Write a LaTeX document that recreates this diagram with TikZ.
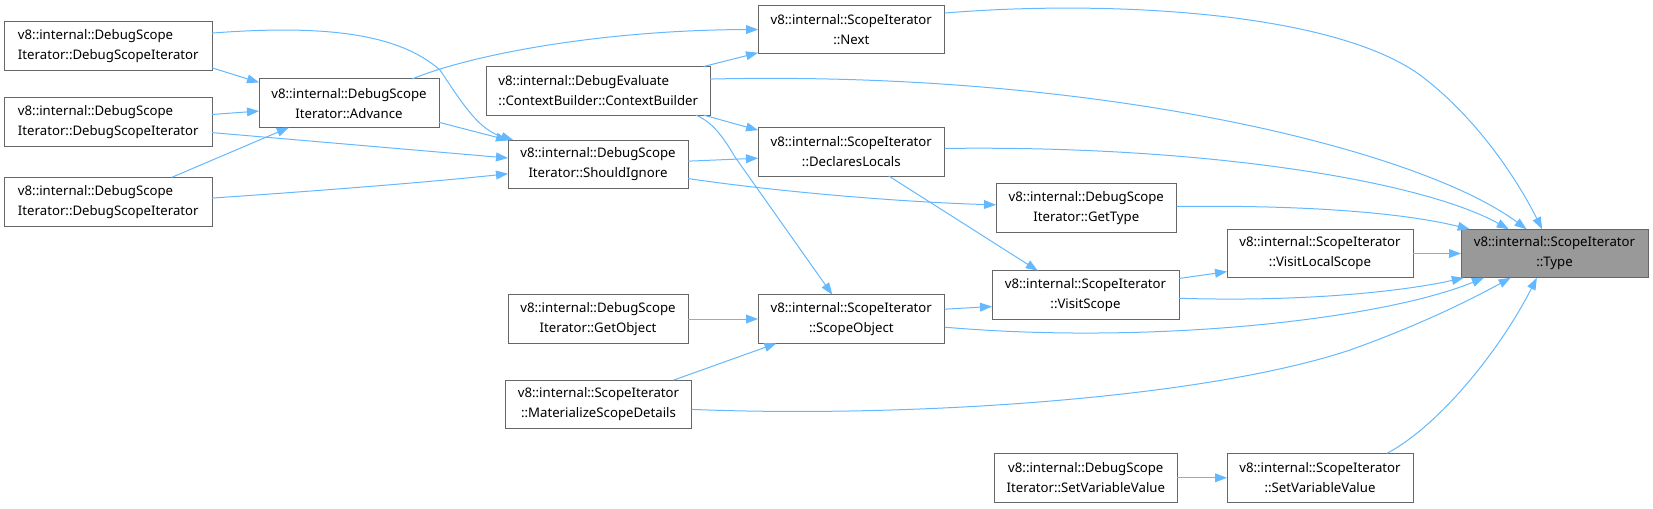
\documentclass[tikz,border=0pt]{standalone}
\usepackage{fontspec}
\setmainfont{Noto Sans}
\usetikzlibrary{arrows.meta}
\definecolor{edgeblue}{HTML}{63B8FF}
\definecolor{frame}{HTML}{666666}
\definecolor{rootfill}{HTML}{999999}

\begin{document}
\begin{tikzpicture}[x=0.75pt,y=-0.75pt,
  every node/.style={outer sep=0pt,text=black},
  fn/.style={draw=frame,line width=0.75pt,fill=white,
    font=\fontsize{9.9}{15}\selectfont,minimum height=36.45pt,
    inner xsep=8.25pt,inner ysep=0pt,align=center},
  fnl/.style={fn,align=left},
  root/.style={fn,fill=rootfill},
  call/.style={draw=edgeblue,line width=0.75pt,
    -{Triangle[length=9pt,width=6.6pt]}}]

\useasboundingbox (0,0) rectangle (1653,508);

% ---- column 1 ------------------------------------------------------------
\node[fnl,minimum width=155.6pt] (dsiA) at (108.3,45.8)
  {v8::internal::DebugScope\\Iterator::DebugScopeIterator};
\node[fnl,minimum width=155.6pt] (dsiB) at (108.3,121.7)
  {v8::internal::DebugScope\\Iterator::DebugScopeIterator};
\node[fnl,minimum width=155.6pt] (dsiC) at (108.3,201.7)
  {v8::internal::DebugScope\\Iterator::DebugScopeIterator};

% ---- column 2 ------------------------------------------------------------
\node[fn,minimum width=135pt] (adv) at (349,103.2)
  {v8::internal::DebugScope\\Iterator::Advance};

% ---- column 3 ------------------------------------------------------------
\node[fnl,minimum width=167.6pt] (ctxB) at (598.3,90.8)
  {v8::internal::DebugEvaluate\\::ContextBuilder::ContextBuilder};
\node[fn,minimum width=135pt] (shIg) at (598,164.3)
  {v8::internal::DebugScope\\Iterator::ShouldIgnore};
\node[fn,minimum width=135pt] (getO) at (598,319)
  {v8::internal::DebugScope\\Iterator::GetObject};
\node[fn,minimum width=139.5pt] (mat) at (598.5,404.5)
  {v8::internal::ScopeIterator\\::MaterializeScopeDetails};

% ---- column 4 ------------------------------------------------------------
\node[fn,minimum width=139.9pt] (next) at (851.3,29.5)
  {v8::internal::ScopeIterator\\::Next};
\node[fn,minimum width=139.9pt] (decl) at (851.3,151.7)
  {v8::internal::ScopeIterator\\::DeclaresLocals};
\node[fn,minimum width=139.9pt] (scO) at (851.3,319)
  {v8::internal::ScopeIterator\\::ScopeObject};

% ---- column 5 ------------------------------------------------------------
\node[fn,minimum width=135.4pt] (getT) at (1086.3,208)
  {v8::internal::DebugScope\\Iterator::GetType};
\node[fn,minimum width=140.25pt] (visS) at (1085.5,295)
  {v8::internal::ScopeIterator\\::VisitScope};
\node[fn,minimum width=136.9pt] (dsSV) at (1085.8,477.8)
  {v8::internal::DebugScope\\Iterator::SetVariableValue};

% ---- column 6 and root ---------------------------------------------------
\node[fn,minimum width=139.5pt] (visL) at (1320,253.5)
  {v8::internal::ScopeIterator\\::VisitLocalScope};
\node[fn,minimum width=139.5pt] (sv) at (1320,477.8)
  {v8::internal::ScopeIterator\\::SetVariableValue};
\node[root,minimum width=140.25pt] (type) at (1554.5,253.5)
  {v8::internal::ScopeIterator\\::Type};

% ---- calls, left part ----------------------------------------------------
\draw[call] (dsiA.-12.6) -- (adv.167.6);
\draw[call] (dsiB.4.6) -- (adv.-175.2);
\draw[call] (dsiC.21.6) -- (adv.-158.7);
\draw[call] (dsiA.7.7) .. controls (330,24) and (400,35) .. (440,70)
  .. controls (465,108) and (480,130) .. (shIg.164.6);
\draw[call] (adv.-12.4) -- (shIg.165.5);
\draw[call] (dsiB.-6.8) -- (shIg.176);
\draw[call] (dsiC.2.8) .. controls (330,190) and (430,182) .. (shIg.-174.5);
\draw[call] (adv.21.3) .. controls (470,55) and (600,30) .. (next.180);
\draw[call] (ctxB.13.2) -- (next.-166.5);
\draw[call] (ctxB.-13.2) -- (decl.167.6);
\draw[call] (ctxB.-14.8) .. controls (712,122) and (722,135) .. (735,157)
  -- (scO.128.5);
\draw[call] (shIg.2.7) -- (decl.-176.6);
\draw[call] (shIg.-9.5) .. controls (780,192) and (900,202) .. (getT.178.1);
\draw[call] (decl.-33.3) -- (visS.153.5);
\draw[call] (getO) -- (scO);
\draw[call] (mat.18.3) -- (scO.-162.3);
\draw[call] (scO.6.1) -- (visS.-173.9);
\draw[call] (visS.10.3) -- (visL.-169.3);
\draw[call] (dsSV) -- (sv);

% ---- calls into the root -------------------------------------------------
\draw[call] (visL) -- (type);
\draw[call] (next.10.3) .. controls (1100,0) and (1330,10) .. (1420,75)
  .. controls (1480,120) and (1520,185) .. (type.117.3);
\draw[call] (ctxB.6) .. controls (1100,70) and (1420,150) .. (type.139.1);
\draw[call] (decl.2.1) .. controls (1200,145) and (1420,180) .. (type.152.2);
\draw[call] (getT.1.3) .. controls (1300,205) and (1400,212) .. (type.164.4);
\draw[call] (visS.-2.6) .. controls (1300,302) and (1400,292) .. (type.-165.5);
\draw[call] (scO.-5.5) .. controls (1150,345) and (1380,320) .. (type.-161);
\draw[call] (mat.-3.4) .. controls (900,418) and (1200,400) .. (1350,350)
  .. controls (1420,325) and (1470,300) .. (type.-151.5);
\draw[call] (sv.20.7) .. controls (1440,425) and (1500,350) .. (type.-126);
\end{tikzpicture}
\end{document}
